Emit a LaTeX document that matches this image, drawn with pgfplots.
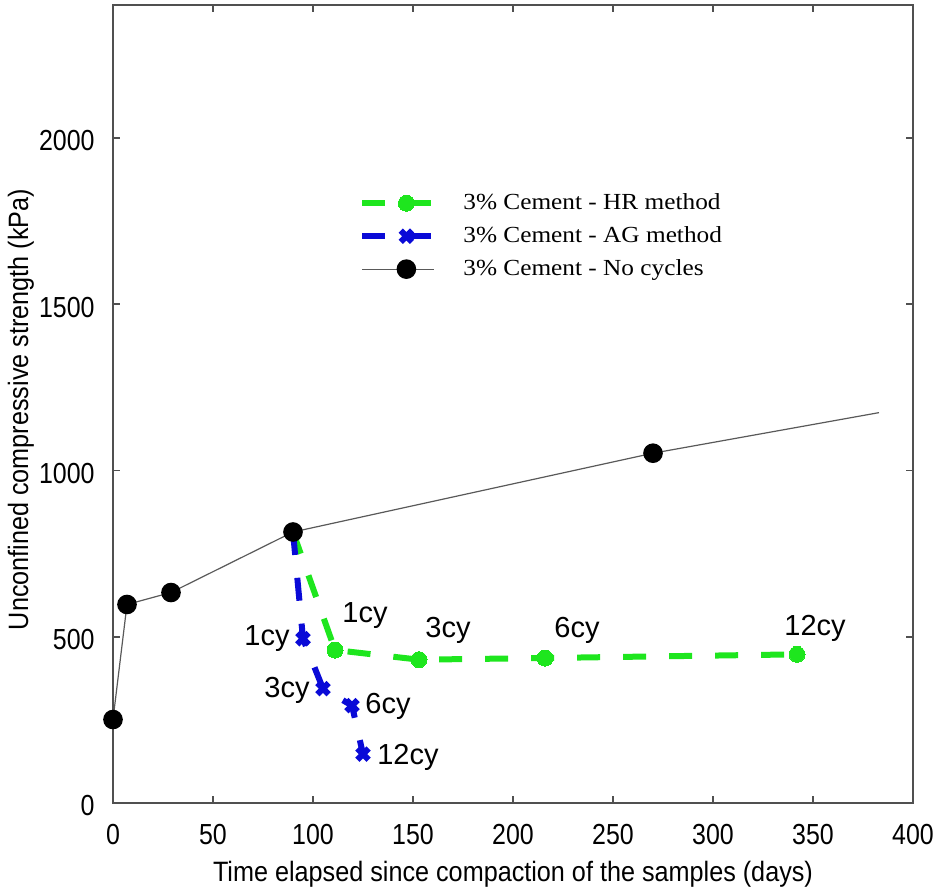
\documentclass[border=0pt]{standalone}
\usepackage{fontspec}
\setmainfont{Liberation Sans}
\newfontfamily\ticksans[FakeStretch=0.86]{Liberation Sans}
\newfontfamily\labelsans[FakeStretch=0.9]{Liberation Sans}
\newfontfamily\legfont[FakeStretch=1.1]{Liberation Serif}
\usepackage{pgfplots}
\pgfplotsset{compat=1.18}

\definecolor{hrgreen}{RGB}{30,230,30}
\definecolor{agblue}{RGB}{10,10,215}
\definecolor{axgray}{RGB}{80,80,80}

\begin{document}
\begin{tikzpicture}
\begin{axis}[
  scale only axis,
  width=400pt, height=399pt,
  xmin=0, xmax=400, ymin=0, ymax=2400,
  xtick={0,50,...,400},
  ytick={0,500,1000,1500,2000},
  tick align=inside,
  major tick length=3.5pt,
  axis line style={axgray, line width=0.9pt},
  every tick/.style={axgray, line width=0.8pt},
  /pgf/number format/assume math mode=true,
  /pgf/number format/1000 sep={},
  tick label style={font=\ticksans\fontsize{14.5}{17}\selectfont, text=black, inner sep=0pt},
  xticklabel style={anchor=base, yshift=-21pt},
  yticklabel style={anchor=east, xshift=-9pt, yshift=-1.5pt},
  xlabel={Time elapsed since compaction of the samples (days)},
  ylabel={Unconfined compressive strength (kPa)},
  every axis x label/.style={at={(rel axis cs:0.5,-0.099)}, anchor=base,
    font=\labelsans\fontsize{14}{16}\selectfont},
  every axis y label/.style={at={(rel axis cs:-0.106,0.493)}, rotate=90, anchor=base,
    font=\labelsans\fontsize{14}{16}\selectfont},
  legend style={draw=none, fill=none, font=\legfont\fontsize{11.5}{13.5}\selectfont,
    at={(rel axis cs:0.30,0.774)}, anchor=north west,
    row sep=3pt, legend cell align=left},
  legend image code/.code={
    \draw[#1, mark indices={2}]
      plot coordinates {(0pt,0pt) (22pt,0pt) (36pt,0pt)};
    \path (47pt,0pt);
  },
]
% freeze-thaw cycles, HR method
\addplot[hrgreen, line width=3pt, dash pattern=on 11.5pt off 11.5pt,
  mark=*, mark size=4pt, mark options={solid, fill=hrgreen, draw=hrgreen, line width=0pt},
  mark indices={2,3,4,5}]
  coordinates {(90,815) (111,460) (153,431) (216,436) (342,447)};
\addlegendentry{3\% Cement - HR method}
% freeze-thaw cycles, AG method
\addplot[agblue, line width=3pt, dash pattern=on 11.5pt off 11.5pt,
  mark=x, mark size=4pt, mark options={solid, line width=3pt},
  mark indices={2,3,4,5}]
  coordinates {(90,815) (95,494) (105,344) (119.5,293) (125,147)};
\addlegendentry{3\% Cement - AG method}
% reference curing without cycles
\addplot[black!65, line width=0.6pt,
  mark=*, mark size=4.6pt, mark options={fill=black, draw=black},
  mark indices={1,2,3,4,5}]
  coordinates {(0,251) (7,597) (29,633) (90,815) (270,1052) (383,1174)};
\addlegendentry{3\% Cement - No cycles}

% cycle labels
\begin{scope}[every node/.style={font=\fontsize{14.5}{16}\selectfont, inner sep=0pt}]
\node at (axis cs:126,564) {1cy};
\node at (axis cs:167.5,520) {3cy};
\node at (axis cs:232,520) {6cy};
\node at (axis cs:351,526) {12cy};
\node at (axis cs:77,496) {1cy};
\node at (axis cs:87,340) {3cy};
\node at (axis cs:137.5,290) {6cy};
\node at (axis cs:147.5,138) {12cy};
\end{scope}
\end{axis}
\pgfresetboundingbox
\path (current axis.south west) +(-56.5pt,-44.5pt)
      (current axis.north east) +(12pt,2.5pt);
\end{tikzpicture}
\end{document}
